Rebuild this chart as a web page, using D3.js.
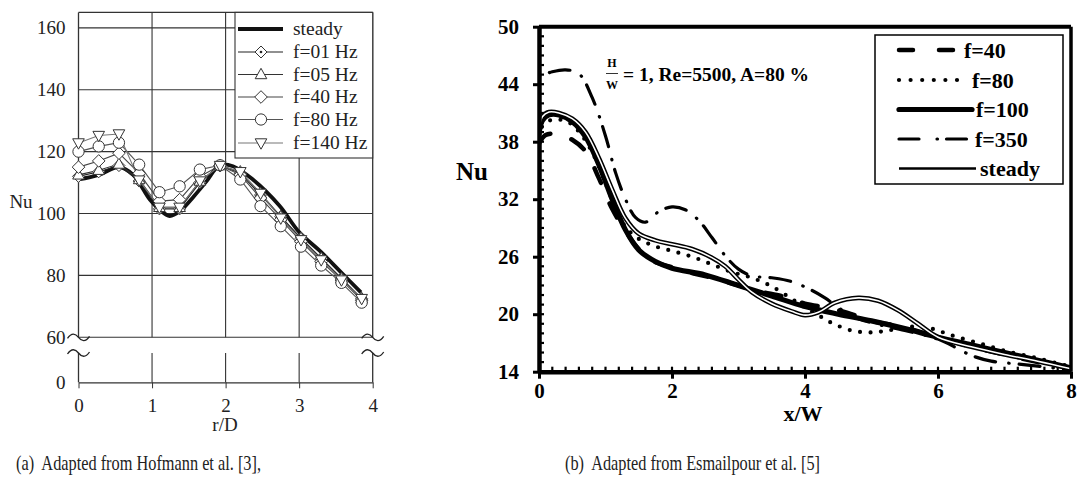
<!DOCTYPE html>
<html><head><meta charset="utf-8">
<script src="https://cdn.jsdelivr.net/npm/d3@7"></script>
<style>html,body{margin:0;padding:0;background:#fff;} svg{display:block} svg text{font-family:'Liberation Serif','Times New Roman',serif;}</style>
</head><body>
<svg id="c" width="1079" height="485"></svg>
<script>
// ================= DATA: panel (a) Hofmann et al. =================
const rD = [0, 0.275, 0.55, 0.825, 1.1, 1.375, 1.65, 1.925, 2.2, 2.475, 2.75, 3.025, 3.3, 3.575, 3.85];
const nuF01  = [112, 113.5, 115.5, 110.5, 101.5, 101.5, 110, 115.5, 113, 106, 99, 92, 85.5, 79, 72.5];
const nuF05  = [112.5, 114, 116, 111, 102, 102, 110.5, 115.5, 113.5, 106.5, 99, 92, 85.5, 79, 72.5];
const nuF40  = [115, 117, 119.5, 113, 104, 104.5, 112, 115.5, 112.5, 105, 98, 91, 84.5, 78.5, 72];
const nuF80  = [120, 121.7, 122.9, 115.8, 106.9, 108.8, 114.2, 115.6, 111, 102.4, 95.9, 89.3, 83.2, 77.6, 71.2];
const nuF140 = [122.8, 125.2, 125.7, 110.8, 102, 102, 110.5, 115.5, 113.5, 106.5, 98.5, 91.5, 85, 78.5, 72.5];
const steadyA_r  = [0, 0.275, 0.55, 0.74, 0.97, 1.1, 1.24, 1.38, 1.57, 1.74, 1.92, 2.1, 2.37, 2.73, 3.0, 3.3, 3.57, 3.84];
const steadyA_nu = [111, 112.5, 115, 112.6, 104.5, 101.3, 99.2, 100.8, 105.6, 110.4, 115.6, 115.3, 111, 102.6, 94, 87.5, 81, 74.5];
const seriesA_labels = ["f=01 Hz", "f=05 Hz", "f=40 Hz", "f=80 Hz", "f=140 Hz"];
const yTicksA = [60, 80, 100, 120, 140, 160];
const xTicksA = [0, 1, 2, 3, 4];

// ================= DATA: panel (b) Esmailpour et al. =================
const x40  = [0, 0.1, 0.3, 0.5, 0.7, 0.9, 1.1, 1.3, 1.5, 1.7, 2.0, 2.3, 2.6, 3.0, 3.3, 3.7, 4.0, 4.4, 4.7, 5.0, 5.5, 6.0, 6.5, 7.0, 7.5, 8.0];
const nu40 = [37.8, 38.7, 38.8, 38.2, 37.0, 34.2, 31.0, 28.7, 26.8, 25.6, 24.9, 24.3, 23.8, 23.0, 22.4, 21.8, 21.1, 20.6, 20.0, 19.3, 18.6, 17.6, 16.6, 15.8, 15.0, 14.4];
const x80  = [0, 0.05, 0.2, 0.45, 0.65, 0.85, 1.05, 1.25, 1.45, 1.7, 2.0, 2.3, 2.6, 2.9, 3.2, 3.5, 3.8, 4.0, 4.2, 4.4, 4.7, 5.0, 5.25, 5.6, 5.9, 6.2, 6.6, 7.0, 7.5, 8.0];
const nu80 = [38.5, 39.6, 40.3, 40.0, 38.6, 36.2, 32.8, 29.6, 28.1, 27.2, 26.6, 26.0, 25.2, 24.4, 23.8, 22.9, 21.6, 20.7, 19.9, 19.1, 18.3, 18.1, 18.3, 18.7, 18.5, 17.8, 17.0, 16.2, 15.4, 14.5];
const x100  = [0, 0.05, 0.15, 0.3, 0.5, 0.7, 0.9, 1.1, 1.3, 1.5, 1.75, 2.0, 2.5, 3.0, 3.5, 4.0, 4.5, 5.0, 5.5, 6.0, 6.5, 7.0, 7.5, 8.0];
const nu100 = [38.8, 40.2, 40.8, 40.8, 40.1, 38.5, 35.6, 32.0, 28.8, 26.7, 25.5, 24.8, 24.1, 23.0, 21.9, 20.8, 20.0, 19.3, 18.5, 17.6, 16.8, 16.0, 15.2, 14.4];
const x350  = [0, 0.2, 0.4, 0.6, 0.8, 1.0, 1.15, 1.3, 1.45, 1.6, 1.8, 2.0, 2.2, 2.4, 2.6, 2.8, 3.0, 3.2, 3.5, 3.8, 4.1, 4.3, 4.5, 4.7, 5.0, 5.5, 6.0, 6.3, 6.5, 6.8, 7.2, 7.6, 8.0];
const nu350 = [44.8, 45.3, 45.5, 45.1, 42.6, 38.6, 34.8, 32.0, 30.1, 29.6, 30.7, 31.2, 30.9, 29.8, 28.0, 26.1, 24.7, 24.0, 23.8, 23.4, 22.5, 21.7, 20.7, 19.8, 19.1, 18.3, 17.4, 16.4, 15.7, 15.1, 14.8, 14.5, 14.2];
const xSt  = [0, 0.05, 0.15, 0.3, 0.5, 0.7, 0.9, 1.1, 1.3, 1.5, 1.75, 2.0, 2.3, 2.6, 2.8, 3.0, 3.2, 3.5, 3.8, 4.0, 4.2, 4.45, 4.8, 5.1, 5.4, 5.7, 6.0, 6.5, 7.0, 7.5, 8.0];
const nuSt = [39.2, 40.6, 41.1, 41.0, 40.4, 39.0, 36.3, 33.0, 30.0, 28.4, 27.7, 27.3, 26.8, 25.9, 25.0, 23.6, 22.3, 21.1, 20.3, 19.9, 20.2, 21.2, 21.7, 21.4, 20.4, 19.0, 17.6, 16.6, 15.8, 15.1, 14.3];
const seriesB_labels = ["f=40", "f=80", "f=100", "f=350", "steady"];
const yTicksB = [14, 20, 26, 32, 38, 44, 50];
const xTicksB = [0, 2, 4, 6, 8];

// ================= DRAWING =================
const svg = d3.select("#c");
const serif = "'Liberation Serif','Times New Roman',serif";
const zip = (xs, ys) => xs.map((x, i) => [x, ys[i]]);

// ---------- Panel (a) ----------
const xA = d3.scaleLinear().domain([0, 4]).range([78.5, 372.7]);
const yA = d3.scaleLinear().domain([60, 165]).range([337.3, 12.4]);
const yA0 = d3.scaleLinear().domain([0, 10]).range([382.3, 353]);
const gA = svg.append("g").style("font-family", serif).attr("fill", "#222");
const gridCol = "#333";

yTicksA.forEach(v => {
  gA.append("line").attr("x1", xA(0)).attr("x2", xA(4)).attr("y1", yA(v)).attr("y2", yA(v))
    .attr("stroke", gridCol).attr("stroke-width", 1.1);
});
gA.append("line").attr("x1", xA(0)).attr("x2", xA(4)).attr("y1", yA(165)).attr("y2", yA(165))
  .attr("stroke", gridCol).attr("stroke-width", 1.2);
xTicksA.forEach(v => {
  [[yA(165), yA(60)], [yA0(10), yA0(0)]].forEach(([a, b]) => {
    gA.append("line").attr("x1", xA(v)).attr("x2", xA(v)).attr("y1", a).attr("y2", b)
      .attr("stroke", gridCol).attr("stroke-width", (v === 0 || v === 4) ? 1.3 : 1.1);
  });
});
const axA = gA.append("g").attr("transform", `translate(0,${yA0(0)})`)
  .call(d3.axisBottom(xA).tickValues(xTicksA).tickSize(6).tickSizeOuter(0).tickPadding(10).tickFormat(d3.format("d")));
const ayA = gA.append("g").attr("transform", `translate(${xA(0)},0)`)
  .call(d3.axisLeft(yA).tickValues(yTicksA).tickSize(0).tickPadding(13));
const ayA0 = gA.append("g").attr("transform", `translate(${xA(0)},0)`)
  .call(d3.axisLeft(yA0).tickValues([0]).tickSize(0).tickPadding(13));
ayA.select(".domain").remove(); ayA0.select(".domain").remove();
[axA, ayA, ayA0].forEach(a => {
  a.attr("font-family", null);
  a.selectAll("text").style("font-family", serif).attr("font-size", 19).attr("fill", "#222");
  a.selectAll("line").attr("stroke", gridCol);
});
axA.select(".domain").attr("stroke", gridCol).attr("stroke-width", 1.3);
const tilde = "M-11,1 C-7,-5 -3,-4 0,0 C3,4 7,5 11,-1";
[xA(0), xA(4)].forEach(x => {
  [yA(60), yA0(10)].forEach(y => {
    gA.append("path").attr("d", tilde).attr("transform", `translate(${x},${y})`)
      .attr("fill", "none").attr("stroke", "#222").attr("stroke-width", 1.3);
  });
});
gA.append("text").attr("x", 21).attr("y", 208).attr("text-anchor", "middle").attr("font-size", 19).text("Nu");
gA.append("text").attr("x", 225).attr("y", 431).attr("text-anchor", "middle").attr("font-size", 19).text("r/D");

const lineA = d3.line().x(d => xA(d[0])).y(d => yA(d[1]));
gA.append("path").datum(zip(steadyA_r, steadyA_nu))
  .attr("d", lineA.curve(d3.curveCatmullRom.alpha(0.5)))
  .attr("fill", "none").attr("stroke", "#111").attr("stroke-width", 3.8);

const mk = {
  dDot: "M0,-6L6,0L0,6L-6,0Z",
  triUp: "M0,-6.2L5.8,4.2L-5.8,4.2Z",
  diam: "M0,-6.3L6.3,0L0,6.3L-6.3,0Z",
  circ: d3.symbol(d3.symbolCircle, 100)(),
  triDn: "M0,6.2L5.8,-4.2L-5.8,-4.2Z"
};
const seriesA = [
  {vals: nuF01, m: "dDot", col: "#222"},
  {vals: nuF05, m: "triUp", col: "#333"},
  {vals: nuF40, m: "diam", col: "#444"},
  {vals: nuF80, m: "circ", col: "#555"},
  {vals: nuF140, m: "triDn", col: "#777"}
];
const lineA2 = d3.line().x(d => xA(d[0])).y(d => yA(d[1]));
seriesA.forEach(s => {
  gA.append("path").datum(zip(rD, s.vals)).attr("d", lineA2)
    .attr("fill", "none").attr("stroke", s.col).attr("stroke-width", 1.1);
});
seriesA.forEach(s => {
  zip(rD, s.vals).forEach(p => {
    gA.append("path").attr("d", mk[s.m]).attr("transform", `translate(${xA(p[0])},${yA(p[1])})`)
      .attr("fill", "#fff").attr("stroke", "#333").attr("stroke-width", 1);
    if (s.m === "dDot") gA.append("circle").attr("cx", xA(p[0])).attr("cy", yA(p[1])).attr("r", 1.3).attr("fill", "#222");
  });
});

const legA = gA.append("g");
legA.append("rect").attr("x", 235).attr("y", yA(165)).attr("width", xA(4) - 235).attr("height", 158 - yA(165))
  .attr("fill", "#fff").attr("stroke", gridCol).attr("stroke-width", 1.1);
const legAy = [29, 52, 74.5, 97, 119.5, 143];
legA.append("line").attr("x1", 238).attr("x2", 283).attr("y1", legAy[0]).attr("y2", legAy[0])
  .attr("stroke", "#111").attr("stroke-width", 4);
legA.append("text").attr("x", 293).attr("y", legAy[0] + 6).attr("font-size", 19.5).text("steady");
seriesA.forEach((s, i) => {
  const y = legAy[i + 1];
  legA.append("line").attr("x1", 238).attr("x2", 283).attr("y1", y).attr("y2", y)
    .attr("stroke", s.col).attr("stroke-width", 1.1);
  legA.append("path").attr("d", mk[s.m]).attr("transform", `translate(261,${y})`)
    .attr("fill", "#fff").attr("stroke", "#333").attr("stroke-width", 1);
  if (s.m === "dDot") legA.append("circle").attr("cx", 261).attr("cy", y).attr("r", 1.3).attr("fill", "#222");
  legA.append("text").attr("x", 293).attr("y", y + 6).attr("font-size", 19.5).text(seriesA_labels[i]);
});

// ---------- Panel (b) ----------
const xB = d3.scaleLinear().domain([0, 8]).range([539, 1071]);
const yB = d3.scaleLinear().domain([14, 50]).range([371.7, 26.7]);
const gB = svg.append("g").style("font-family", serif).attr("font-weight", "bold").attr("fill", "#000");

svg.append("defs").append("clipPath").attr("id", "clipB").append("rect")
  .attr("x", xB(0)).attr("y", yB(50)).attr("width", xB(8) - xB(0)).attr("height", yB(14) - yB(50));

d3.range(15, 50).forEach(v => {
  gB.append("line").attr("x1", xB(0)).attr("x2", xB(0) + 5).attr("y1", yB(v)).attr("y2", yB(v))
    .attr("stroke", "#000").attr("stroke-width", 2.2);
});
d3.range(1, 40).forEach(i => {
  const v = i * 0.2;
  gB.append("line").attr("x1", xB(v)).attr("x2", xB(v)).attr("y1", yB(14)).attr("y2", yB(14) - 5)
    .attr("stroke", "#000").attr("stroke-width", 2.2);
});

const lineB = d3.line().x(d => xB(d[0])).y(d => yB(d[1])).curve(d3.curveCatmullRom.alpha(0.5));
const gC = gB.append("g").attr("clip-path", "url(#clipB)");
const stylesB = [
  {data: zip(x40, nu40), w: 4.5, dash: "16,22", off: 0},
  {data: zip(x80, nu80), w: 4.2, dash: "0,10.5", off: 0},
  {data: zip(x100, nu100), w: 5.2, dash: null, off: 0},
  {data: zip(x350, nu350), w: 3.2, dash: "21,13,0.5,10", off: -11},
];
stylesB.forEach(s => {
  const p = gC.append("path").datum(s.data).attr("d", lineB).attr("fill", "none")
    .attr("stroke", "#000").attr("stroke-width", s.w).attr("stroke-linecap", "round");
  if (s.dash) p.attr("stroke-dasharray", s.dash).attr("stroke-dashoffset", s.off);
});
gC.append("path").datum(zip(xSt, nuSt)).attr("d", lineB).attr("fill", "none")
  .attr("stroke", "#000").attr("stroke-width", 4.6);
gC.append("path").datum(zip(xSt, nuSt)).attr("d", lineB).attr("fill", "none")
  .attr("stroke", "#fff").attr("stroke-width", 1.6);

gB.append("line").attr("x1", xB(0)).attr("x2", xB(8)).attr("y1", yB(50)).attr("y2", yB(50))
  .attr("stroke", "#000").attr("stroke-width", 4);
gB.append("line").attr("x1", xB(8)).attr("x2", xB(8)).attr("y1", yB(50)).attr("y2", yB(14))
  .attr("stroke", "#000").attr("stroke-width", 3.5);

const axB = gB.append("g").attr("transform", `translate(0,${yB(14)})`)
  .call(d3.axisBottom(xB).tickValues(xTicksB).tickSize(7).tickSizeOuter(0).tickPadding(4).tickFormat(d3.format("d")));
const ayB = gB.append("g").attr("transform", `translate(${xB(0)},0)`)
  .call(d3.axisLeft(yB).tickValues(yTicksB).tickSize(6).tickSizeOuter(0).tickPadding(14));
[axB, ayB].forEach(a => {
  a.attr("font-family", null);
  a.selectAll("text").style("font-family", serif).attr("font-weight", "bold").attr("font-size", 21).attr("fill", "#000");
  a.selectAll(".tick line").attr("stroke", "#000").attr("stroke-width", 3);
  a.select(".domain").attr("stroke", "#000").attr("stroke-width", 4.5);
});

gB.append("text").attr("x", 472).attr("y", 180).attr("text-anchor", "middle").attr("font-size", 25).text("Nu");
gB.append("text").attr("x", 803).attr("y", 421).attr("text-anchor", "middle").attr("font-size", 22).text("x/W");

gB.append("text").attr("x", 612).attr("y", 67).attr("text-anchor", "middle").attr("font-size", 12).text("H");
gB.append("line").attr("x1", 606).attr("x2", 618).attr("y1", 73.5).attr("y2", 73.5).attr("stroke", "#000").attr("stroke-width", 0.8);
gB.append("text").attr("x", 612).attr("y", 89).attr("text-anchor", "middle").attr("font-size", 12).text("W");
gB.append("text").attr("x", 623).attr("y", 80.5).attr("font-size", 19.5).text("= 1, Re=5500, A=80 %");

const legB = gB.append("g");
legB.append("rect").attr("x", 875).attr("y", 35).attr("width", 188).attr("height", 149)
  .attr("fill", "#fff").attr("stroke", "#000").attr("stroke-width", 1.5);
const legBy = [50, 80, 109.5, 139, 168.5];
const legStyles = [
  {w: 4.5, dash: "14,26", x2: 960},
  {w: 4.2, dash: "0,11.6", x2: 968},
  {w: 5.2, dash: null, x2: 972},
  {w: 3.2, dash: "20,18,0.5,9", x2: 971},
  {w: 2.6, dash: null, x2: 976}
];
legStyles.forEach((s, i) => {
  const y = legBy[i];
  const l = legB.append("line").attr("x1", 899).attr("x2", s.x2).attr("y1", y).attr("y2", y)
    .attr("stroke", "#000").attr("stroke-width", s.w).attr("stroke-linecap", i === 4 ? "butt" : "round");
  if (s.dash) l.attr("stroke-dasharray", s.dash);
  legB.append("text").attr("x", s.x2 + 4).attr("y", y + 7.5).attr("font-size", 22).text(seriesB_labels[i]);
});

// ---------- captions ----------
svg.append("text").attr("x", 16).attr("y", 470).style("font-family", serif).attr("font-size", 21).attr("fill", "#222")
  .attr("textLength", 245).attr("lengthAdjust", "spacingAndGlyphs")
  .attr("xml:space", "preserve").text("(a)  Adapted from Hofmann et al. [3],");
svg.append("text").attr("x", 565).attr("y", 470).style("font-family", serif).attr("font-size", 21).attr("fill", "#222")
  .attr("textLength", 255).attr("lengthAdjust", "spacingAndGlyphs")
  .attr("xml:space", "preserve").text("(b)  Adapted from Esmailpour et al. [5]");
</script>
</body></html>
